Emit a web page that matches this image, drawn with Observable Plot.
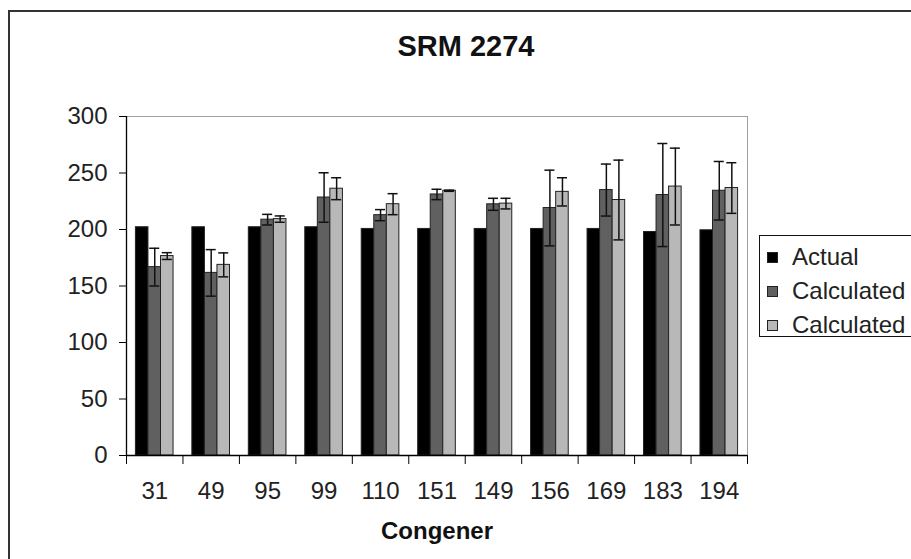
<!DOCTYPE html>
<html>
<head>
<meta charset="utf-8">
<script src="https://cdn.jsdelivr.net/npm/d3@7"></script>
<script src="https://cdn.jsdelivr.net/npm/@observablehq/plot@0.6"></script>
<style>
  body { margin: 0; background: #fff; }
  #wrap { position: relative; width: 911px; height: 559px; overflow: hidden; background: #fff;
          font-family: 'Liberation Sans', Arial, sans-serif; color: #222; }
  #frame { position: absolute; left: 8px; top: 10px; width: 2000px; height: 2000px;
           border: 2px solid #333; pointer-events: none; z-index: 5; }
  #title { position: absolute; left: 9px; width: 914px; top: 32px; text-align: center;
           font-weight: bold; font-size: 29px; line-height: 29px; color: #111; }
  #chart { position: absolute; left: 0; top: 70px; }
  #legend { position: absolute; left: 759px; top: 235px; width: 220px; height: 100px;
            border: 1px solid #111; background: #fff; z-index: 3; }
  .row { position: absolute; left: 0; height: 34px; display: flex; align-items: center;
         font-size: 24px; line-height: 34px; color: #222; white-space: nowrap; }
  .sw { width: 9px; height: 9px; border: 1px solid #222; margin-left: 7px; margin-right: 14px; }
</style>
</head>
<body>
<div id="wrap">
  <div id="title">SRM 2274</div>
  <div id="chart"></div>
  <div id="legend"></div>
  <div id="frame"></div>
</div>
<script>
// ---- data ----
const congeners = ["31", "49", "95", "99", "110", "151", "149", "156", "169", "183", "194"];
const seriesKeys = ["Actual", "Calculated A", "Calculated B"];
const seriesLabels = ["Actual", "Calculated", "Calculated"];
const seriesColors = ["#000000", "#606060", "#b8b8b8"];
const actual = [202, 202, 202, 202, 200.5, 200.5, 200.5, 200.5, 200.5, 197.8, 199.3];
const calcA = [166.7, 161.6, 208.7, 228.3, 212.7, 231, 222.3, 219, 234.9, 230.5, 234.3];
const calcAErr = [16.7, 20.6, 4.7, 21.9, 4.9, 4.6, 5.3, 33.5, 23, 45.6, 25.9];
const calcB = [176.5, 168.7, 209.2, 236.1, 222.4, 234.3, 222.9, 233.3, 226.1, 238, 236.7];
const calcBErr = [3, 10.6, 2.8, 9.7, 9.3, 0.5, 4.7, 12.5, 35.3, 34, 22.4];
const yTicks = [0, 50, 100, 150, 200, 250, 300];

const values = [actual, calcA, calcB];
const errors = [null, calcAErr, calcBErr];

// grouped layout inside each category band (Excel gap width 150%)
const nS = seriesKeys.length;
const step = 1 / (nS + 1.5);
const outer = 0.75 * step;
const capHalf = 0.4 * step;

const rows = congeners.flatMap((c, i) => seriesKeys.map((k, s) => ({
  congener: c, key: k,
  x1: i + outer + s * step,
  x2: i + outer + (s + 1) * step,
  xc: i + outer + (s + 0.5) * step,
  value: values[s][i],
  err: errors[s] ? errors[s][i] : null
})));
const errRows = rows.filter(d => d.err != null);

const chart = Plot.plot({
  width: 911,
  height: 489,
  marginLeft: 126,
  marginRight: 164,
  marginTop: 46,
  marginBottom: 104,
  style: { fontFamily: "'Liberation Sans', Arial, sans-serif", fontSize: "24px", color: "#222", background: "none", overflow: "visible" },
  x: { domain: [0, congeners.length], axis: null },
  y: { domain: [0, 300], axis: null },
  color: { domain: seriesKeys, range: seriesColors },
  marks: [
    Plot.rectY(rows, { x1: "x1", x2: "x2", y: "value", fill: "key", stroke: "#222", strokeWidth: 1 }),
    Plot.ruleX(errRows, { x: "xc", y1: d => d.value - d.err, y2: d => d.value + d.err, stroke: "#111", strokeWidth: 1.5 }),
    Plot.ruleY(errRows, { y: d => d.value + d.err, x1: d => d.xc - capHalf, x2: d => d.xc + capHalf, stroke: "#111", strokeWidth: 1.5 }),
    Plot.ruleY(errRows, { y: d => d.value - d.err, x1: d => d.xc - capHalf, x2: d => d.xc + capHalf, stroke: "#111", strokeWidth: 1.5 }),
    Plot.ruleY([300], { stroke: "#a0a0a0", strokeWidth: 1 }),
    Plot.ruleX([congeners.length], { stroke: "#a0a0a0", strokeWidth: 1 }),
    Plot.ruleY([0], { stroke: "#000", strokeWidth: 1.3 }),
    Plot.ruleX([0], { stroke: "#000", strokeWidth: 1.3 }),
    Plot.axisY({ ticks: yTicks, tickSize: 7, tickPadding: 12, label: null, stroke: "#000", fill: "#222" }),
    Plot.axisX({ ticks: d3.range(congeners.length + 1), tickSize: 9, tickFormat: () => "", label: null, stroke: "#000" }),
    Plot.axisX({ ticks: congeners.map((c, i) => i + 0.5), tickFormat: d => congeners[Math.floor(d)], tickSize: 0, tickPadding: 26, label: null, fill: "#222" }),
    Plot.text(["Congener"], { frameAnchor: "bottom", lineAnchor: "top", dy: 66, fontWeight: "bold", fontSize: 24, fill: "#111" })
  ]
});
document.getElementById("chart").appendChild(chart);

// legend
const legend = document.getElementById("legend");
seriesKeys.forEach((k, s) => {
  const row = document.createElement("div");
  row.className = "row";
  row.style.top = (4 + s * 34) + "px";
  const sw = document.createElement("span");
  sw.className = "sw";
  sw.style.background = seriesColors[s];
  const t = document.createElement("span");
  t.textContent = seriesLabels[s];
  row.appendChild(sw);
  row.appendChild(t);
  legend.appendChild(row);
});
</script>
</body>
</html>
